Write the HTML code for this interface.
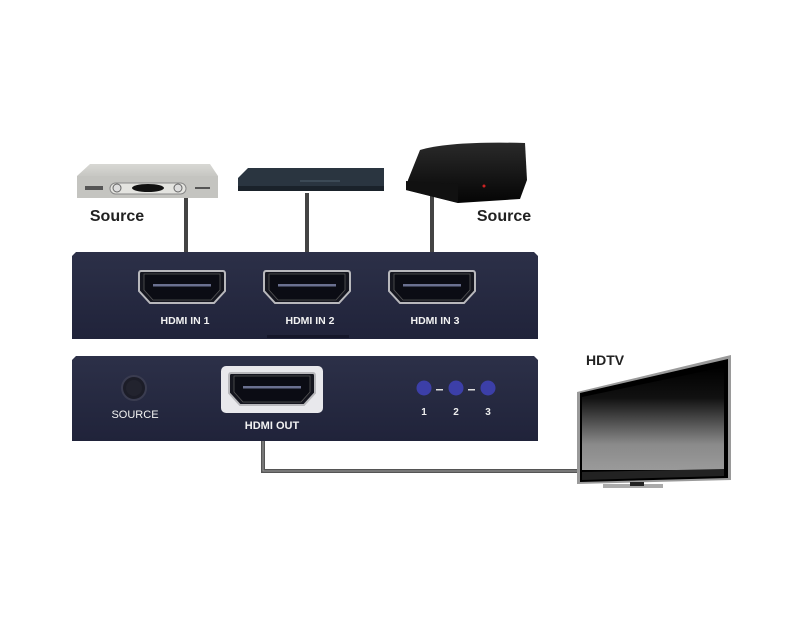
<!DOCTYPE html>
<html><head><meta charset="utf-8"><style>
html,body{margin:0;padding:0;background:#fff;}
svg{display:block;}
text{font-family:"Liberation Sans",sans-serif;}
</style></head><body>
<svg width="800" height="618" viewBox="0 0 800 618" xmlns="http://www.w3.org/2000/svg">
<defs>
<linearGradient id="panel" x1="0" y1="0" x2="0" y2="1">
<stop offset="0" stop-color="#2c3048"/><stop offset="1" stop-color="#20233a"/></linearGradient>
<linearGradient id="screen" x1="0" y1="0" x2="0" y2="1">
<stop offset="0" stop-color="#000"/><stop offset="0.3" stop-color="#111"/><stop offset="0.75" stop-color="#8a8a8a"/><stop offset="1" stop-color="#9a9a9a"/></linearGradient>
<linearGradient id="silver" x1="0" y1="0" x2="0" y2="1">
<stop offset="0" stop-color="#d8d8d4"/><stop offset="1" stop-color="#a8a8a4"/></linearGradient>
<linearGradient id="ps3" x1="0" y1="0" x2="0" y2="1">
<stop offset="0" stop-color="#2a2a2a"/><stop offset="1" stop-color="#050505"/></linearGradient>
<g id="port">
<path d="M-41,-16 H41 Q43,-16 43,-13 V4 L32,16 H-32 L-43,4 V-13 Q-43,-16 -41,-16 Z" fill="#15161f" stroke="#b8b8bc" stroke-width="2"/>
<path d="M-38,-13 H38 V3 L29,13 H-29 L-38,3 Z" fill="#0b0c14" stroke="#555" stroke-width="0.8"/>
<rect x="-29" y="-3" width="58" height="2.5" fill="#6a7090"/>
</g>
</defs>

<!-- cables -->
<rect x="184" y="198" width="4" height="56" fill="#444"/>
<rect x="305" y="193" width="4" height="61" fill="#444"/>
<rect x="430" y="195" width="4" height="59" fill="#444"/>
<path d="M263,440 V471 H582" fill="none" stroke="#555" stroke-width="4"/>
<path d="M263,440 V471 H582" fill="none" stroke="#999" stroke-width="1"/>

<!-- set-top box -->
<path d="M90,164 H210 L218,176 V198 H77 V176 Z" fill="url(#silver)"/>
<rect x="77" y="176" width="141" height="22" fill="#c4c4c0"/>
<rect x="110" y="183" width="76" height="11" rx="5.5" fill="#e4e4e0" stroke="#888"/>
<ellipse cx="148" cy="188" rx="16" ry="4" fill="#111"/>
<circle cx="117" cy="188" r="4" fill="#ddd" stroke="#666"/>
<circle cx="178" cy="188" r="4" fill="#ddd" stroke="#666"/>
<rect x="85" y="186" width="18" height="4" fill="#555"/>
<rect x="195" y="187" width="15" height="2" fill="#555"/>
<!-- DVD -->
<path d="M248,168 H384 V190 H238 V178 Z" fill="#2a3540"/>
<rect x="238" y="186" width="146" height="5" fill="#1a222a"/>
<rect x="300" y="180" width="40" height="2" fill="#3c4a56"/>
<!-- PS3 -->
<path d="M420,150 Q450,141 525,143 L527,180 L520,199 L458,203 L406,190 L408,180 Z" fill="url(#ps3)"/>
<path d="M406,181 L458,184 L458,203 L406,190 Z" fill="#111"/>
<circle cx="484" cy="186" r="1.5" fill="#c22"/>

<text x="117" y="221" font-size="16" font-weight="bold" fill="#222" text-anchor="middle">Source</text>
<text x="504" y="221" font-size="16" font-weight="bold" fill="#222" text-anchor="middle">Source</text>

<!-- top panel -->
<path d="M76,252 H534 L538,256 V339 H72 V256 Z" fill="url(#panel)"/>
<use href="#port" x="182" y="287"/>
<use href="#port" x="307" y="287"/>
<use href="#port" x="432" y="287"/>
<text x="185" y="324" font-size="10.5" font-weight="bold" fill="#f2f2f2" text-anchor="middle">HDMI IN 1</text>
<text x="310" y="324" font-size="10.5" font-weight="bold" fill="#f2f2f2" text-anchor="middle">HDMI IN 2</text>
<text x="435" y="324" font-size="10.5" font-weight="bold" fill="#f2f2f2" text-anchor="middle">HDMI IN 3</text>
<rect x="267" y="335" width="82" height="3" fill="#15172a"/>

<!-- bottom panel -->
<path d="M76,356 H534 L538,360 V441 H72 V360 Z" fill="url(#panel)"/>
<circle cx="134" cy="388" r="12" fill="#1c1d28" stroke="#3a3c50" stroke-width="2"/>
<circle cx="134" cy="388" r="8" fill="#22232e"/>
<text x="135" y="418" font-size="11" fill="#f2f2f2" text-anchor="middle">SOURCE</text>
<rect x="221" y="366" width="102" height="47" rx="5" fill="#e8e8ec"/>
<use href="#port" x="272" y="389"/>
<text x="272" y="429" font-size="11" font-weight="bold" fill="#f2f2f2" text-anchor="middle">HDMI OUT</text>
<circle cx="424" cy="388" r="7.5" fill="#3c3fa8"/>
<circle cx="456" cy="388" r="7.5" fill="#3c3fa8"/>
<circle cx="488" cy="388" r="7.5" fill="#3c3fa8"/>
<rect x="436" y="389" width="7" height="1.5" fill="#ddd"/>
<rect x="468" y="389" width="7" height="1.5" fill="#ddd"/>
<text x="424" y="415" font-size="10" font-weight="bold" fill="#eee" text-anchor="middle">1</text>
<text x="456" y="415" font-size="10" font-weight="bold" fill="#eee" text-anchor="middle">2</text>
<text x="488" y="415" font-size="10" font-weight="bold" fill="#eee" text-anchor="middle">3</text>

<!-- HDTV -->
<text x="586" y="365" font-size="14" font-weight="bold" fill="#222">HDTV</text>
<path d="M577,392 L731,355 V480 L577,484 Z" fill="#9a9a9a"/>
<path d="M580,393 L728,359 V478 L580,482 Z" fill="#000"/>
<path d="M582,397 L724,367 V470 L582,470 Z" fill="url(#screen)"/>
<path d="M582,472 L724,469 V476 L582,480 Z" fill="#222"/>
<rect x="603" y="484" width="60" height="4" fill="#aaa"/>
<rect x="630" y="482" width="14" height="4" fill="#222"/>
</svg>
</body></html>
